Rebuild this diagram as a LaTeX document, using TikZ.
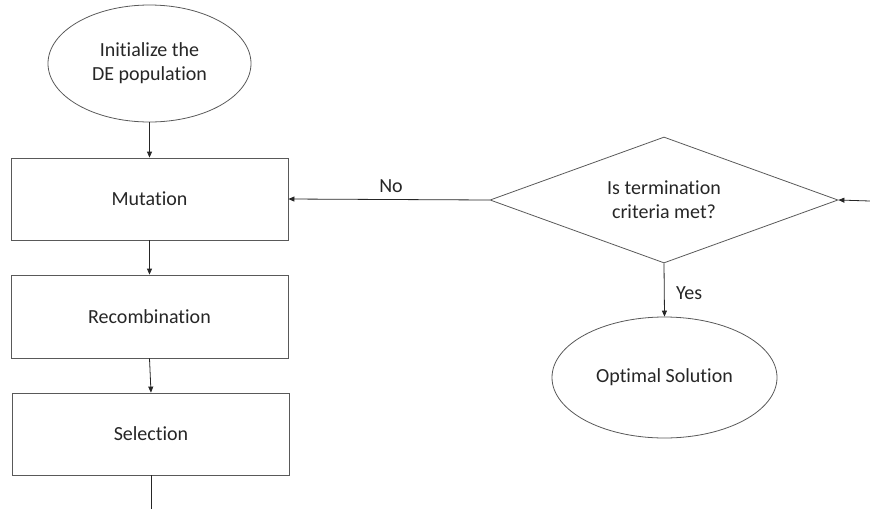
\documentclass[tikz,border=0pt]{standalone}
\usepackage{fontspec}
\setmainfont{Carlito}[Ligatures={NoCommon}]
\usetikzlibrary{shapes.geometric,arrows.meta}
\definecolor{edge}{RGB}{89,89,89}
\begin{document}
\begin{tikzpicture}[x=1pt,y=-1pt,
  font=\fontsize{20}{24}\selectfont,
  shapebox/.style={draw=edge,line width=0.8pt,inner sep=0pt,align=center,text=black!85},
  stepbox/.style={shapebox,rectangle,minimum width=277pt,minimum height=82pt},
  oval/.style={shapebox,ellipse},
  arr/.style={draw=black!85,line width=0.8pt,-{Triangle[length=6pt,width=5pt]}},
  lbl/.style={text=black!85}]
\useasboundingbox (0,0) rectangle (870,509);
\node[oval,minimum width=203pt,minimum height=117pt] (init) at (149.5,63.5) {Initialize the\\DE population};
\node[stepbox] (mut) at (149.5,199) {Mutation};
\node[stepbox,minimum height=83pt] (rec) at (149.5,316.5) {Recombination};
\node[stepbox] (sel) at (151,434) {Selection};
\node[shapebox,diamond,shape aspect=2.76,minimum width=348pt,minimum height=126pt] (dec) at (664,200) {Is termination\\criteria met?};
\node[oval,minimum width=225pt,minimum height=121pt] (opt) at (664.5,377.5) {Optimal Solution};
\coordinate (inright) at (870,201);
\coordinate (outbot) at (151,509);
\draw[arr] (init.south) -- (mut.north);
\draw[arr] (mut.south) -- (rec.north);
\draw[arr] (rec.south) -- (sel.north);
\draw[draw=black!85,line width=0.8pt] (sel.south) -- (outbot);
\draw[arr] (inright) -- (dec.east);
\draw[arr] (dec.west) -- node[lbl,above=3pt,pos=0.49] (no) {No} (mut.east);
\draw[arr] (dec.south) -- node[lbl,right=8pt,pos=0.55] (yes) {Yes} (opt.north);
\end{tikzpicture}
\end{document}
